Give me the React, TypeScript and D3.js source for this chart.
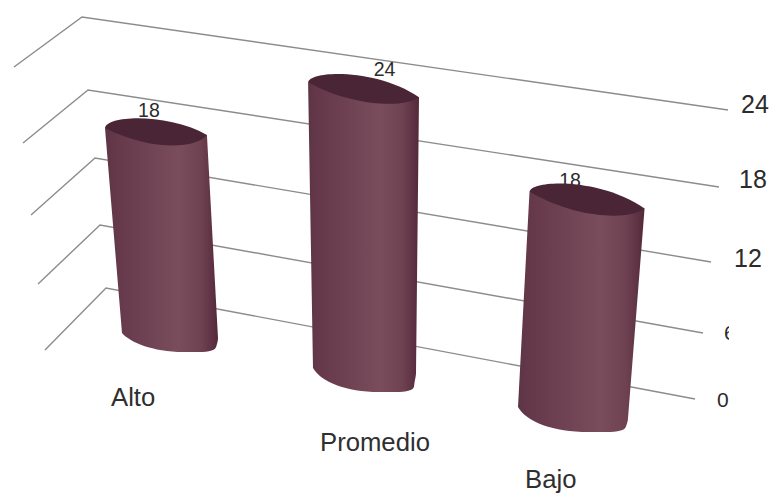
import React from "react";
import * as d3 from "d3";

const categories = ["Alto", "Promedio", "Bajo"];
const seriesValues = [18, 24, 18];
const tickValues = [0, 6, 12, 18, 24];
const tickLabels = ["0", "6", "12", "18", "24"];

// Three-legged gridlines: front of the side wall, back corner, end of the back wall.
const frontX = d3.scaleLinear(tickValues, [45, 38, 31, 23, 14]);
const frontY = d3.scaleLinear(tickValues, [350, 284, 215, 143, 67]);
const cornerX = d3.scaleLinear(tickValues, [106, 100, 95, 88, 82]);
const cornerY = d3.scaleLinear(tickValues, [288, 225, 158, 90, 17]);
const endX = d3.scaleLinear(tickValues, [695, 703, 711, 719, 728]);
const endY = d3.scaleLinear(tickValues, [399, 333, 262, 187, 110]);
const tickX = d3.scaleLinear(tickValues, [717, 724, 734, 739, 741]);
const tickY = d3.scaleLinear(tickValues, [407, 340, 267, 188, 113]);
const tickFont = d3.scaleThreshold<number, number>().domain([12]).range([21, 25]);

// Perspective of each cylinder: floor position, rise per unit, lean and flare with height.
const byCategory = (range: number[]) => d3.scaleOrdinal<string, number>(categories, range);
const baseX = byCategory([170, 364.5, 573]);
const baseY = byCategory([335.5, 370.5, 412.5]);
const rise = byCategory([11.33, 11.7, 11.8]);
const lean = byCategory([-0.78, -0.04, 0.78]);
const baseWidth = byCategory([96, 103, 110]);
const flare = byCategory([0.33, 0.33, 0.28]);
const baseTilt = byCategory([5, 5, 11]);
const topTilt = byCategory([7, 15, 17]);
const baseSag = byCategory([19, 24, 25]);
const lipUp = byCategory([10, 9, 9]);
const lipDown = byCategory([13.5, 13, 15]);
const labelDx = byCategory([-7, 21, -17]);
const labelGap = byCategory([-1, 3, 4.5]);

function cylinderParts(name: string, value: number) {
  const w0 = baseWidth(name);
  const x0 = baseX(name);
  const y0 = baseY(name);
  const w1 = w0 + flare(name) * value;
  const x1 = x0 + lean(name) * value;
  const y1 = y0 - rise(name) * value;
  const t0 = baseTilt(name) / 2;
  const t1 = topTilt(name) / 2;
  const bl = [x0 - w0 / 2, y0 - t0];
  const br = [x0 + w0 / 2, y0 + t0];
  const tl = [x1 - w1 / 2, y1 - t1];
  const tr = [x1 + w1 / 2, y1 + t1];
  const low = bl[1] + baseSag(name);
  const up = tl[1] - lipUp(name);
  const down = y1 + lipDown(name);

  const body = d3.path();
  body.moveTo(tl[0], tl[1]);
  body.lineTo(bl[0], bl[1]);
  body.bezierCurveTo(bl[0] + 0.08 * w0, low - 10, bl[0] + 0.32 * w0, low, bl[0] + 0.64 * w0, low);
  body.bezierCurveTo(bl[0] + 0.8 * w0, low, br[0] - 0.04 * w0, low + 1, br[0] - 0.02 * w0, low - 5);
  body.bezierCurveTo(br[0] - 0.01 * w0, br[1] + 6, br[0], br[1] + 3, br[0], br[1]);
  body.lineTo(tr[0], tr[1]);
  body.closePath();

  const cap = d3.path();
  cap.moveTo(tl[0], tl[1]);
  cap.bezierCurveTo(tl[0] + 0.02 * w1, up - 3, tl[0] + 0.62 * w1, up - 5, tr[0], tr[1]);
  cap.bezierCurveTo(tr[0] - 0.12 * w1, down + 5, tl[0] + 0.42 * w1, down + 5, tl[0], tl[1]);
  cap.closePath();

  return { body: body.toString(), cap: cap.toString(), labelX: x1 + labelDx(name), labelY: up + labelGap(name) };
}

const SANS = "'Liberation Sans', Arial, sans-serif";
const categoryLabelX = byCategory([111, 320, 525]);
const categoryLabelY = byCategory([406, 451, 488]);

export default function App() {
  return (
    <svg
      width={772}
      height={493}
      viewBox="0 0 772 493"
      style={{ position: "fixed", left: 0, top: 0, display: "block", background: "#fff" }}
      fontFamily={SANS}
    >
      <defs>
        <linearGradient id="barShade" x1="0" x2="1" y1="0" y2="0">
          <stop offset="0" stopColor="#5c3545" />
          <stop offset="0.08" stopColor="#643848" />
          <stop offset="0.3" stopColor="#6c4051" />
          <stop offset="0.65" stopColor="#7a4d5c" />
          <stop offset="0.85" stopColor="#6f4252" />
          <stop offset="0.97" stopColor="#5a2e3f" />
          <stop offset="1" stopColor="#522939" />
        </linearGradient>
        {/* The two lowest tick labels are cut off at the plot's right edge. */}
        <clipPath id="tickClip">
          <rect x={0} y={0} width={729} height={493} />
        </clipPath>
      </defs>

      <g fill="none" stroke="#8c8c8c" strokeWidth={1.4}>
        {tickValues.map((t) => (
          <polyline
            key={t}
            points={[
              [frontX(t), frontY(t)],
              [cornerX(t), cornerY(t)],
              [endX(t), endY(t)],
            ].join(" ")}
          />
        ))}
      </g>

      <g fill="#2b2b2b">
        {tickValues.map((t, i) => (
          <text
            key={t}
            x={tickX(t)}
            y={tickY(t)}
            fontSize={tickFont(t)}
            clipPath={t < 12 ? "url(#tickClip)" : undefined}
          >
            {tickLabels[i]}
          </text>
        ))}
      </g>

      {categories.map((name, i) => {
        const parts = cylinderParts(name, seriesValues[i]);
        return (
          <g key={name}>
            <text x={parts.labelX} y={parts.labelY} textAnchor="middle" fontSize={19.5} fill="#2b2b2b">
              {seriesValues[i]}
            </text>
            <path d={parts.body} fill="url(#barShade)" />
            <path d={parts.cap} fill="#4a2535" />
          </g>
        );
      })}

      <g fill="#2f2f2f" fontSize={25.7}>
        {categories.map((name) => (
          <text key={name} x={categoryLabelX(name)} y={categoryLabelY(name)}>
            {name}
          </text>
        ))}
      </g>
    </svg>
  );
}
